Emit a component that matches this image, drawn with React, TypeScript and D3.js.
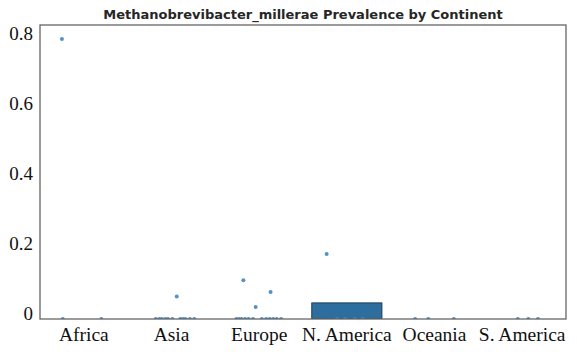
import React from 'react';
import * as d3 from 'd3';

// categories and aggregated bar heights
const continents = ['Africa', 'Asia', 'Europe', 'N. America', 'Oceania', 'S. America'];
const barValues = [0, 0, 0, 0.046, 0, 0];

// per-sample prevalence (strip points) and their jitter, as fraction of band width
const africaVals = [0.8, 0, 0];
const africaJit = [-0.25, -0.24, 0.2];
const asiaVals = [0.064, 0, 0, 0, 0, 0, 0, 0, 0, 0, 0, 0];
const asiaJit = [0.06, -0.18, -0.14, -0.11, -0.07, -0.04, 0.01, 0.1, 0.13, 0.16, 0.21, 0.26];
const europeVals = [0.111, 0.034, 0.077, 0, 0, 0, 0, 0, 0, 0, 0, 0, 0, 0, 0];
const europeJit = [-0.18, -0.04, 0.13, -0.26, -0.23, -0.2, -0.16, -0.12, -0.07, 0.03, 0.08, 0.12, 0.16, 0.2, 0.25];
const nAmericaVals = [0.186, 0, 0, 0, 0];
const nAmericaJit = [-0.23, -0.11, -0.02, 0.09, 0.18];
const oceaniaVals = [0, 0, 0];
const oceaniaJit = [-0.22, -0.07, 0.22];
const sAmericaVals = [0, 0, 0];
const sAmericaJit = [-0.05, 0.07, 0.18];

const yTicks = [0, 0.2, 0.4, 0.6, 0.8];
const yTickLabels = ['0', '0.2', '0.4', '0.6', '0.8'];

const title = 'Methanobrevibacter_millerae Prevalence by Continent';

const stripVals = [africaVals, asiaVals, europeVals, nAmericaVals, oceaniaVals, sAmericaVals];
const stripJit = [africaJit, asiaJit, europeJit, nAmericaJit, oceaniaJit, sAmericaJit];

export default function App() {
  const width = 577;
  const height = 352;
  const margin = { top: 25, right: 11, bottom: 33, left: 40 };
  const x0 = margin.left;
  const x1 = width - margin.right;
  const y0 = height - margin.bottom;
  const y1 = margin.top;

  const x = d3.scaleBand().domain(continents).range([x0, x1]).paddingInner(0).paddingOuter(0);
  const y = d3.scaleLinear().domain([0, 0.84]).range([y0, y1]);
  const bw = x.bandwidth();
  const barW = bw * 0.8;

  // flatten the strip points
  const points = continents.flatMap((c, i) =>
    stripVals[i].map((v, j) => ({ c, v, j: stripJit[i][j] }))
  );

  return (
    <svg
      width={width}
      height={height}
      style={{ position: 'absolute', left: 0, top: 0, background: '#fff' }}
    >
      <defs>
        <clipPath id="plotClip">
          <rect x={x0} y={y1} width={x1 - x0} height={y0 - y1} />
        </clipPath>
      </defs>

      {/* title */}
      <text
        x={(x0 + x1) / 2}
        y={19}
        textAnchor="middle"
        fontFamily="DejaVu Sans"
        fontWeight="bold"
        fontSize={13}
        fill="#262626"
      >
        {title}
      </text>

      <g clipPath="url(#plotClip)">
        {continents.map((c, i) =>
          barValues[i] > 0 ? (
            <rect
              key={c}
              x={(x(c) as number) + (bw - barW) / 2}
              y={y(barValues[i])}
              width={barW}
              height={y0 - y(barValues[i])}
              fill="#2d6e9f"
              stroke="#1d3d58"
              strokeWidth={1}
            />
          ) : null
        )}
        {points.map((p, k) => (
          <circle
            key={k}
            cx={(x(p.c) as number) + bw / 2 + p.j * bw}
            cy={y(p.v)}
            r={2}
            fill="#3f86c0"
            opacity={0.9}
          />
        ))}
      </g>

      {/* frame */}
      <rect
        x={x0}
        y={y1}
        width={x1 - x0}
        height={y0 - y1}
        fill="none"
        stroke="#666"
        strokeWidth={1.3}
      />

      {/* y tick labels */}
      {yTicks.map((t, i) => (
        <text
          key={t}
          x={33}
          y={y(t) - 6}
          dominantBaseline="central"
          textAnchor="end"
          fontFamily="Liberation Serif"
          fontSize={19}
          fill="#111"
        >
          {yTickLabels[i]}
        </text>
      ))}

      {/* x tick labels */}
      {continents.map(c => (
        <text
          key={c}
          x={(x(c) as number) + bw / 2}
          y={341}
          textAnchor="middle"
          fontFamily="Liberation Serif"
          fontSize={19.5}
          fill="#111"
        >
          {c}
        </text>
      ))}
    </svg>
  );
}
